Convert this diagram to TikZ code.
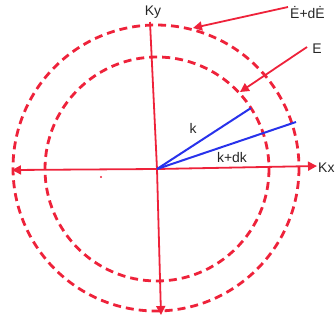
\documentclass[tikz,border=0pt]{standalone}
\usepackage{fontspec}
\setmainfont{Liberation Sans}
\usetikzlibrary{arrows.meta}
\definecolor{cred}{RGB}{238,34,58}
\definecolor{cblue}{RGB}{40,50,235}
\begin{document}
\begin{tikzpicture}[x=1bp,y=-1bp,
  circ/.style={draw=cred,line width=2.8bp,dash pattern=on 8bp off 5bp},
  axis/.style={draw=cred,line width=1.8bp},
  ptr/.style={draw=cred,line width=1.8bp,-{Triangle[length=9bp,width=9bp]}},
  vec/.style={draw=cblue,line width=2bp},
  lbl/.style={font=\fontsize{14}{16}\selectfont,inner sep=0pt,text=black!85}]
\useasboundingbox (0,0) rectangle (336,323);
\coordinate (O) at (157,169);
\coordinate (R) at (317,166);
\coordinate (L) at (12,170);
\coordinate (T) at (150,22);
\coordinate (B) at (161,315);
\coordinate (K1) at (251,108);
\coordinate (K2) at (296,122);
\coordinate (A1s) at (288,7);
\coordinate (A1e) at (193,28);
\coordinate (A2s) at (307,47);
\coordinate (A2e) at (240,92);
\path[circ] (156,168) circle (143);
\path[circ] (157,169) circle (112);
\path[ptr] (O) -- (R);
\path[ptr] (O) -- (L);
\path[axis] (O) -- (T);
\path[ptr] (O) -- (B);
\path[vec] (O) -- (K1);
\path[vec] (O) -- (K2);
\path[ptr] (A1s) -- (A1e);
\path[ptr] (A2s) -- (A2e);
\fill[cred] (101,177) circle (1.2);
\node[lbl] (lk) at (193,128) {k};
\node[lbl] (lkdk) at (232,158) {k+dk};
\node[lbl,anchor=west] (lkx) at (318,168) {Kx};
\node[lbl] (lky) at (153,12) {Ky};
\node[lbl] (lE) at (317,49) {E};
\node[lbl,anchor=west] (lEdE) at (290,13) {\.E+d\.E};
\end{tikzpicture}
\end{document}
